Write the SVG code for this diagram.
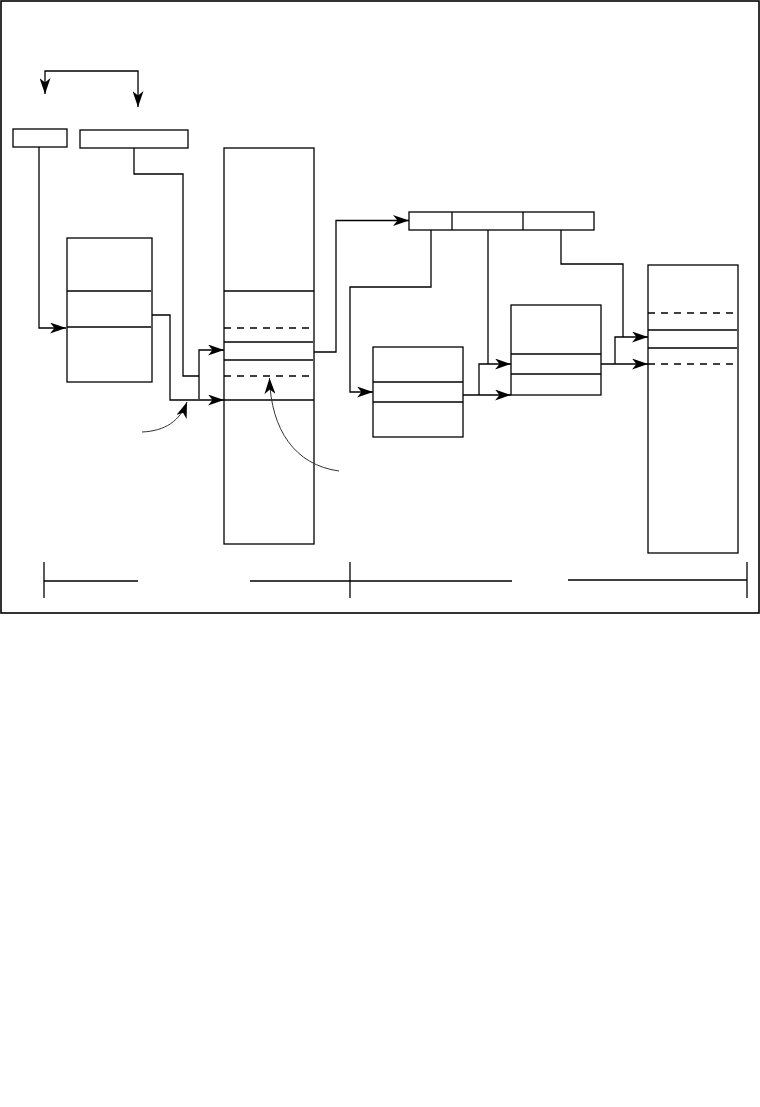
<svg xmlns="http://www.w3.org/2000/svg" width="760" height="1107" viewBox="0 0 760 1107">
<style>
.box{fill:#fff;stroke:#000;stroke-width:1.3}
.ln{stroke:#000;stroke-width:1.3;fill:none}
.dash{stroke:#000;stroke-width:1.3;stroke-dasharray:7,6;fill:none}
.con{stroke:#000;stroke-width:1.3;fill:none}
.curve{stroke:#333;stroke-width:1;fill:none}
</style>
<defs>
<marker id="ah" viewBox="0 0 16 11" refX="16" refY="5.5" markerWidth="16" markerHeight="11" markerUnits="userSpaceOnUse" orient="auto-start-reverse">
<path d="M0,0 L16,5.5 L0,11 L4.5,5.5 z" fill="#000"/>
</marker>
</defs>
<rect width="760" height="1107" fill="#fff"/>
<rect id="frame" x="1" y="1" width="758" height="612" fill="none" stroke="#000" stroke-width="1.6"/>
<g id="box-a"><rect class="box" x="13" y="129" width="54" height="18"/></g>
<g id="box-b"><rect class="box" x="80" y="130" width="108" height="18"/></g>
<g id="left-table"><rect class="box" x="67" y="238" width="85" height="144"/>
<line class="ln" x1="67" y1="291" x2="151" y2="291"/><line class="ln" x1="67" y1="327" x2="151" y2="327"/></g>
<g id="main-stack"><rect class="box" x="224" y="148" width="90" height="396"/>
<line class="ln" x1="224" y1="291" x2="314" y2="291"/>
<line class="dash" x1="224" y1="328" x2="314" y2="328"/>
<line class="ln" x1="224" y1="342" x2="313" y2="342"/>
<line class="ln" x1="224" y1="360" x2="313" y2="360"/>
<line class="dash" x1="224" y1="376" x2="314" y2="376"/>
<line class="ln" x1="224" y1="400" x2="314" y2="400"/></g>
<g id="register"><rect class="box" x="409" y="212" width="185" height="18"/>
<line class="ln" x1="452" y1="212" x2="452" y2="230"/><line class="ln" x1="523" y1="212" x2="523" y2="230"/></g>
<g id="table-a"><rect class="box" x="373" y="347" width="90" height="90"/>
<line class="ln" x1="373" y1="382" x2="463" y2="382"/><line class="ln" x1="373" y1="402" x2="463" y2="402"/></g>
<g id="table-b"><rect class="box" x="511" y="305" width="90" height="90"/>
<line class="ln" x1="511" y1="354" x2="601" y2="354"/><line class="ln" x1="511" y1="374" x2="601" y2="374"/></g>
<g id="right-stack"><rect class="box" x="648" y="265" width="90" height="288"/>
<line class="dash" x1="648" y1="313" x2="738" y2="313"/>
<line class="ln" x1="648" y1="330" x2="737" y2="330"/>
<line class="ln" x1="648" y1="348" x2="737" y2="348"/>
<line class="dash" x1="648" y1="364" x2="738" y2="364"/></g>
<g id="connectors">
<path class="con" d="M45,94 V71 H138 V107" marker-start="url(#ah)" marker-end="url(#ah)"/>
<path class="con" d="M39,147 V328 H66" marker-end="url(#ah)"/>
<path class="con" d="M134,148 V174 H183 V376 H199"/>
<path class="con" d="M199,399 V350 H224" marker-end="url(#ah)"/>
<path class="con" d="M152,315 H170 V400 H224" marker-end="url(#ah)"/>
<path class="con" d="M314,352 H336 V220.5 H409" marker-end="url(#ah)"/>
<path class="con" d="M431,230 V287 H350 V392 H373" marker-end="url(#ah)"/>
<path class="con" d="M463,395 H511" marker-end="url(#ah)"/>
<path class="con" d="M479,395 V364 H511" marker-end="url(#ah)"/>
<path class="con" d="M488,230 V364"/>
<path class="con" d="M561,230 V264 H623 V337"/>
<path class="con" d="M615,364 V337 H648" marker-end="url(#ah)"/>
<path class="con" d="M601,364 H648" marker-end="url(#ah)"/>
<path class="curve" d="M142,432 C165,431 180,421 187,402" marker-end="url(#ah)"/>
<path class="curve" d="M339,471 C295,465 271,430 269.5,378" marker-end="url(#ah)"/>
</g>
<g id="dimensions">
<line class="ln" x1="44" y1="581" x2="138" y2="581"/>
<line class="ln" x1="250" y1="581" x2="512" y2="581"/>
<line class="ln" x1="568" y1="580" x2="747" y2="580"/>
<line class="ln" x1="44" y1="562" x2="44" y2="598"/>
<line class="ln" x1="350" y1="562" x2="350" y2="598"/>
<line class="ln" x1="747" y1="562" x2="747" y2="598"/>
</g>
</svg>
